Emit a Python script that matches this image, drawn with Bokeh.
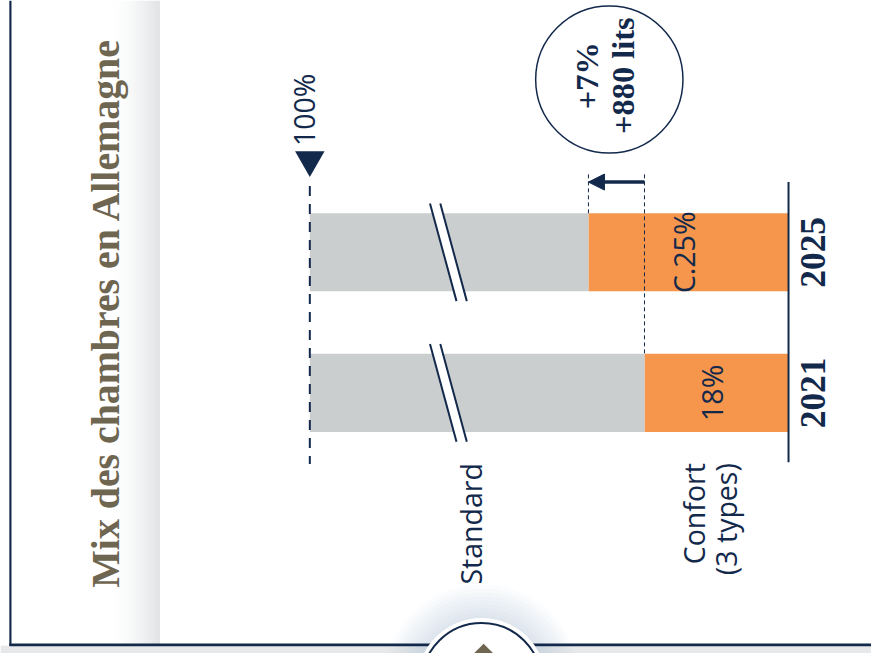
import math
from bokeh.plotting import figure
from bokeh.models import Range1d, ColumnDataSource, Arrow, NormalHead
from bokeh.core.properties import value
from bokeh.embed import file_html
from bokeh.resources import INLINE

# ---------------- data ----------------
years = ["2021", "2025"]
confort_share = [18, 25]          # % of rooms "Confort"
total_share = 100
value_labels = ["18%", "C.25%"]
segment_labels = ["Standard", "Confort", "(3 types)"]
total_label = "100%"
delta_labels = ["+7%", "+880 lits"]
title_text = "Mix des chambres en Allemagne"

# ---------------- style ----------------
NAVY = "#13294b"
ORANGE = "#f5964c"
GRAY = "#cbcecf"
BROWN = "#6e6650"
SANS = value("Open Sans")
SERIF = value("Liberation Serif")

W, H = 871, 653            # figure size
RW, RH = 887.0, 669.0      # design canvas
FS = W / RW                # font scale


def fs(v):
    return "%.1fpx" % (v * FS)


PX_PER_PCT = 8.15
BASE_PX = 802.5            # baseline position on the design canvas
ROW_PX = 144.0             # distance between bars
ROW0_PX = 258.0            # 2025 row centre from top
BAR_H = 80.0 / ROW_PX

# axis break: values above BRK are compressed so 100% lands at TOP_DISP
BRK = 42.5
TOP_DISP = (BASE_PX - 315.0) / PX_PER_PCT


def disp(v):
    if v <= BRK:
        return v
    return BRK + (v - BRK) * (TOP_DISP - BRK) / (total_share - BRK)


x_start = BASE_PX / PX_PER_PCT
x_end = (BASE_PX - RW) / PX_PER_PCT
y_top = 1 + ROW0_PX / ROW_PX
y_bot = 1 - (RH - ROW0_PX) / ROW_PX

p = figure(width=W, height=H, x_range=Range1d(x_start, x_end),
           y_range=Range1d(y_bot, y_top), output_backend="svg",
           toolbar_location=None, min_border=0, x_axis_location=None,
           y_axis_location=None, outline_line_color=None,
           background_fill_color="white", border_fill_color="white")
p.grid.visible = False
p.extra_x_ranges = {"px": Range1d(0, RW)}
p.extra_y_ranges = {"px": Range1d(RH, 0)}
PX = dict(x_range_name="px", y_range_name="px")

# ---------------- decoration: left panel ----------------
n = 24
x0, x1 = 115.0, 162.0
lefts, rights, cols = [], [], []
for i in range(n):
    t = (i + 1) / n
    t = t ** 1.6
    c = (int(255 - t * 29), int(255 - t * 27), int(255 - t * 25))
    lefts.append(x0 + (x1 - x0) * i / n)
    rights.append(x0 + (x1 - x0) * (i + 1) / n + 0.5)
    cols.append("#%02x%02x%02x" % c)
p.quad(left=lefts, right=rights, top=[0] * n, bottom=[RH] * n,
       fill_color=cols, line_color=None, **PX)

# bottom strip
p.quad(left=[0], right=[RW], top=[661], bottom=[RH], fill_color="#e7e8e9",
       line_color=None, **PX)

# left border
p.quad(left=[9], right=[11.2], top=[0], bottom=[661], fill_color=NAVY,
       line_color=None, **PX)

# shadow of bottom circle
for d in range(200, 128, -8):
    p.scatter(x=[490], y=[699], size=d * FS, marker="circle",
              fill_color="#9fb0c8", fill_alpha=0.045, line_color=None, **PX)
p.quad(left=[9], right=[RW], top=[658.8], bottom=[661.6], fill_color=NAVY,
       line_color=None, **PX)
p.scatter(x=[490], y=[699], size=132 * FS, marker="circle", fill_color="white",
          line_color=None, **PX)
p.scatter(x=[490], y=[699], size=122 * FS, marker="circle", fill_color="white",
          line_color=NAVY, line_width=2, **PX)
p.scatter(x=[492], y=[681], size=31 * FS, marker="square", angle=math.pi / 4,
          fill_color=BROWN, line_color=None, **PX)

# title
p.text(x=[107], y=[320], text=[title_text], angle=math.pi / 2,
       text_font=SERIF, text_font_style="bold", text_font_size=fs(40.5),
       text_color=BROWN, text_align="center", text_baseline="middle", **PX)

# ---------------- bars ----------------
ypos = list(range(len(years)))
src = ColumnDataSource(dict(
    y=ypos,
    conf=confort_share,
    conf_mid=[c / 2 for c in confort_share],
    top_disp=[disp(total_share)] * len(years),
    label=value_labels,
    year=years,
))
p.hbar(y="y", left=0, right="conf", height=BAR_H, fill_color=ORANGE,
       line_color=None, source=src)
p.hbar(y="y", left="conf", right="top_disp", height=BAR_H, fill_color=GRAY,
       line_color=None, source=src)

# axis-break marks
half_gap = 5.25 / PX_PER_PCT
half_slant = 13.5 / PX_PER_PCT
ext = 50.0 / ROW_PX
xs_w, ys_w, lx0, lx1, ly0, ly1 = [], [], [], [], [], []
for y in ypos:
    c1 = BRK + half_gap
    c2 = BRK - half_gap
    xs_w.append([c1 + half_slant, c2 + half_slant, c2 - half_slant, c1 - half_slant])
    ys_w.append([y + ext, y + ext, y - ext, y - ext])
    for c in (c1, c2):
        lx0.append(c + half_slant); ly0.append(y + ext)
        lx1.append(c - half_slant); ly1.append(y - ext)
p.patches(xs=xs_w, ys=ys_w, fill_color="white", line_color=None)
p.segment(x0=lx0, y0=ly0, x1=lx1, y1=ly1, line_color=NAVY, line_width=2)

# value labels in orange
p.text(x="conf_mid", y="y", text="label", source=src, angle=math.pi / 2,
       text_font=SANS, text_font_size=fs(29), text_color=NAVY,
       text_align="center", text_baseline="middle", x_offset=-4)

# year labels
p.text(x=[827] * len(years), y=ypos, text=years, angle=math.pi / 2,
       text_font=SERIF, text_font_style="bold", text_font_size=fs(36),
       text_color=NAVY, text_align="center", text_baseline="middle",
       x_range_name="px")

# baseline
top_bar = ypos[-1] + BAR_H / 2
bot_bar = ypos[0] - BAR_H / 2
p.segment(x0=[0], y0=[top_bar + 0.222], x1=[0], y1=[bot_bar - 0.215],
          line_color=NAVY, line_width=2)

# 100% dashed line & marker
p.segment(x0=[disp(total_share)], y0=[top_bar + 0.194],
          x1=[disp(total_share)], y1=[bot_bar - 0.229],
          line_color=NAVY, line_width=2, line_dash="10 8")
p.scatter(x=[disp(total_share)], y=[top_bar + 0.38], marker="inverted_triangle",
          size=30 * FS, fill_color=NAVY, line_color=None)
p.text(x=[309], y=[112], text=[total_label], angle=math.pi / 2,
       text_font=SANS, text_font_size=fs(29), text_color=NAVY,
       text_align="center", text_baseline="middle", **PX)

# segment labels
p.text(x=[479, 706, 739], y=[474, 474, 474], text=segment_labels,
       angle=math.pi / 2, text_font=SANS, text_font_size=fs(29),
       text_color=NAVY, text_align="right", text_baseline="middle", **PX)

# change arrow and guides
guide_top = top_bar + 0.277
p.segment(x0=confort_share, y0=[guide_top] * 2, x1=confort_share,
          y1=[ypos[0] + BAR_H / 2, ypos[1] + BAR_H / 2],
          line_color=NAVY, line_width=1, line_dash="4 3")
p.add_layout(Arrow(x_start=confort_share[0], y_start=top_bar + 0.222,
                   x_end=confort_share[1], y_end=top_bar + 0.222,
                   line_color=NAVY, line_width=3.5,
                   end=NormalHead(size=16, fill_color=NAVY, line_color=NAVY)))

# delta bubble
p.scatter(x=[620], y=[81], size=150 * FS, marker="circle", fill_color="white",
          line_color=NAVY, line_width=1.5, **PX)
p.text(x=[597, 634], y=[77, 77], text=delta_labels, angle=math.pi / 2,
       text_font=SERIF, text_font_style="bold", text_font_size=fs(33),
       text_color=NAVY, text_align="center", text_baseline="middle", **PX)

open("out.html", "w").write(file_html(p, INLINE))
